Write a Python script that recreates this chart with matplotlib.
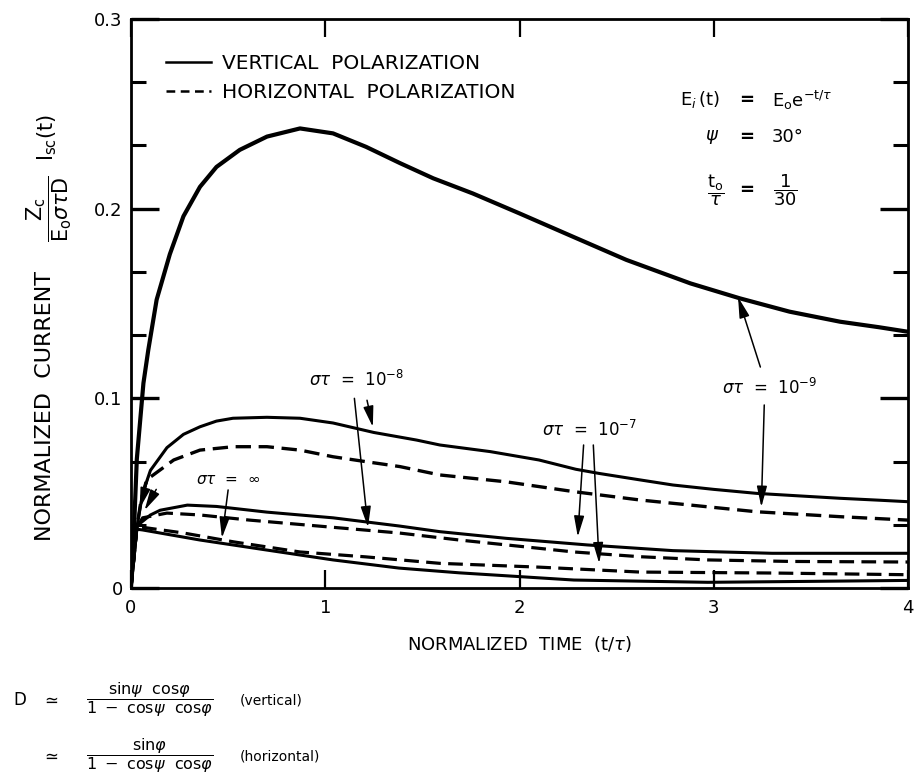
import numpy as np
import matplotlib.pyplot as plt
from matplotlib.lines import Line2D

plt.rcParams['font.family'] = ['DejaVu Sans']
plt.rcParams['mathtext.fontset'] = 'dejavusans'

# values (t/tau, normalized current)
# vertical polarization, sigma*tau = 1e-9
t_v9 = [0, 0.015, 0.03, 0.064, 0.089, 0.132, 0.2, 0.27, 0.355, 0.44, 0.56, 0.70, 0.87, 1.04, 1.21, 1.385,
        1.556, 1.76, 2.0, 2.28, 2.55, 2.88, 3.135, 3.39, 3.65, 3.85, 4.0]
i_v9 = [0, 0.03, 0.068, 0.108, 0.1255, 0.152, 0.176, 0.196, 0.2115, 0.222, 0.231, 0.238, 0.2423, 0.2397, 0.2326,
        0.224, 0.216, 0.208, 0.1975, 0.185, 0.173, 0.1606, 0.1527, 0.1457, 0.1404, 0.1375, 0.1351]

# vertical, peak ~0.09
t_v8 = [0, 0.03, 0.06, 0.1, 0.185, 0.27, 0.355, 0.44, 0.525, 0.7, 0.87, 1.04, 1.25, 1.47, 1.59, 1.85, 2.1,
        2.29, 2.41, 2.62, 2.79, 3.0, 3.22, 3.45, 3.65, 3.85, 4.0]
i_v8 = [0, 0.032, 0.05, 0.062, 0.074, 0.081, 0.085, 0.088, 0.0895, 0.090, 0.0895, 0.087, 0.082, 0.078, 0.0754,
        0.0719, 0.0675, 0.0626, 0.0604, 0.057, 0.0543, 0.052, 0.0499, 0.0485, 0.0473, 0.0463, 0.0455]

# horizontal, peak ~0.074
t_h9 = [0, 0.03, 0.05, 0.08, 0.22, 0.355, 0.527, 0.70, 0.87, 1.04, 1.21, 1.385, 1.59, 1.93, 2.28, 2.62,
        2.96, 3.22, 3.65, 4.0]
i_h9 = [0, 0.032, 0.045, 0.057, 0.0675, 0.0727, 0.0745, 0.0745, 0.0727, 0.0692, 0.0666, 0.064, 0.0596,
        0.056, 0.0508, 0.0464, 0.0429, 0.0402, 0.0376, 0.0358]

# vertical, peak ~0.043
t_v7 = [0, 0.03, 0.046, 0.1, 0.15, 0.29, 0.44, 0.7, 1.04, 1.38, 1.59, 1.93, 2.35, 2.79, 3.3, 3.6, 4.0]
i_v7 = [0, 0.032, 0.034, 0.0385, 0.041, 0.0437, 0.043, 0.040, 0.037, 0.0327, 0.0297, 0.0262, 0.0227,
        0.0197, 0.0183, 0.0183, 0.0183]

# horizontal, peak ~0.039
t_h8 = [0, 0.03, 0.06, 0.185, 0.355, 0.61, 1.04, 1.38, 1.69, 2.0, 2.28, 2.62, 2.97, 3.4, 4.0]
i_h8 = [0, 0.032, 0.037, 0.0395, 0.0385, 0.0358, 0.032, 0.029, 0.0253, 0.022, 0.019, 0.0165, 0.0148,
        0.014, 0.0137]

# horizontal, decaying
t_h7 = [0, 0.03, 0.06, 0.27, 0.53, 0.87, 1.21, 1.59, 2.1, 2.62, 3.3, 4.0]
i_h7 = [0, 0.032, 0.032, 0.029, 0.0243, 0.019, 0.0164, 0.013, 0.011, 0.0084, 0.0079, 0.007]

# vertical, sigma*tau = infinity
t_vinf = [0, 0.03, 0.06, 0.355, 0.7, 1.04, 1.38, 1.69, 2.28, 2.97, 3.5, 4.0]
i_vinf = [0, 0.031, 0.0306, 0.0253, 0.020, 0.0148, 0.0105, 0.008, 0.0042, 0.003, 0.0035, 0.004]

x_ticks = [0, 1, 2, 3, 4]
x_labels = ['0', '1', '2', '3', '4']
y_ticks = [0, 0.1, 0.2, 0.3]
y_labels = ['0', '0.1', '0.2', '0.3']

W, H = 914, 779
fig = plt.figure(figsize=(W / 100, H / 100), dpi=100)
ax = fig.add_axes([131 / W, 1 - 588 / H, 777 / W, 569 / H])

dash = (0, (4.6, 2.3))
ax.plot(t_v9, i_v9, color='black', lw=3.0, solid_capstyle='round')
ax.plot(t_v8, i_v8, color='black', lw=2.2)
ax.plot(t_h9, i_h9, color='black', lw=2.4, linestyle=dash)
ax.plot(t_v7, i_v7, color='black', lw=2.2)
ax.plot(t_h8, i_h8, color='black', lw=2.3, linestyle=dash)
ax.plot(t_h7, i_h7, color='black', lw=2.3, linestyle=dash)
ax.plot(t_vinf, i_vinf, color='black', lw=2.2)

ax.set_xlim(0, 4)
ax.set_ylim(0, 0.3)
ax.set_xticks(x_ticks)
ax.set_xticklabels(x_labels, fontsize=13)
ax.set_yticks(y_ticks)
ax.set_yticklabels(y_labels, fontsize=13)
ax.set_yticks(np.arange(0, 0.301, 1 / 30), minor=True)

ax.tick_params(axis='x', which='major', direction='in', top=True, bottom=True, length=13, width=1.6, pad=8)
ax.tick_params(axis='y', which='major', direction='in', left=True, right=True, length=20, width=2.4, pad=6)
ax.tick_params(axis='y', which='minor', direction='in', left=True, right=True, length=11, width=2.2)
for s in ax.spines.values():
    s.set_linewidth(2)

ax.set_xlabel(r'NORMALIZED  TIME  (t/$\tau$)', fontsize=13, labelpad=12)

# legend
handles = [Line2D([], [], color='black', lw=1.8),
           Line2D([], [], color='black', lw=1.8, linestyle=(0, (3.5, 2.2)))]
ax.legend(handles, ['VERTICAL  POLARIZATION', 'HORIZONTAL  POLARIZATION'], loc='upper left',
          bbox_to_anchor=(0.022, 0.97), frameon=False, fontsize=14.5, handlelength=2.2,
          handletextpad=0.55, labelspacing=0.5)

# curve labels with arrows
arw = dict(arrowstyle='-|>,head_length=0.9,head_width=0.22', color='black', lw=1.1,
           shrinkA=0, shrinkB=0, mutation_scale=14)


def arrow(tail, tip):
    ax.annotate('', xy=tip, xytext=tail, arrowprops=arw)


ax.text(1.163, 0.1096, r'$\sigma\tau$  =  10$^{-8}$', fontsize=12, ha='center', va='center')
arrow((1.15, 0.1), (1.22, 0.032))
arrow((1.215, 0.099), (1.245, 0.0849))

ax.text(2.363, 0.0833, r'$\sigma\tau$  =  10$^{-7}$', fontsize=12, ha='center', va='center')
arrow((2.33, 0.0754), (2.30, 0.027))
arrow((2.38, 0.0754), (2.41, 0.013))

ax.text(3.29, 0.1054, r'$\sigma\tau$  =  10$^{-9}$', fontsize=12, ha='center', va='center')
arrow((3.24, 0.1165), (3.125, 0.1534))
arrow((3.26, 0.0965), (3.245, 0.0427))

ax.text(0.5, 0.057, r'$\sigma\tau$  =  $\infty$', fontsize=11, ha='center', va='center')
arrow((0.5, 0.0517), (0.468, 0.0264))

# small arrows near the start
arrow((0.1, 0.062), (0.045, 0.042))
arrow((0.13, 0.052), (0.07, 0.041))


# parameters box
def ftxt(px, py, s, **kw):
    fig.text(px / W, 1 - py / H, s, **kw)


ftxt(720, 100, r'$\mathrm{E}_{i}\,\mathrm{(t)}$', fontsize=13, ha='right', va='center')
ftxt(747, 100, '=', fontsize=13, ha='center', va='center', fontweight='bold')
ftxt(772, 100, r'$\mathrm{E}_{\mathrm{o}}\mathrm{e}^{-\mathrm{t}/\tau}$', fontsize=13, ha='left', va='center')
ftxt(712, 137, r'$\psi$', fontsize=13, ha='center', va='center')
ftxt(747, 137, '=', fontsize=13, ha='center', va='center', fontweight='bold')
ftxt(772, 137, '30°', fontsize=13, ha='left', va='center')
ftxt(716, 190, r'$\dfrac{\mathrm{t}_{\mathrm{o}}}{\tau}$', fontsize=13, ha='center', va='center')
ftxt(747, 190, '=', fontsize=13, ha='center', va='center', fontweight='bold')
ftxt(785, 190, r'$\dfrac{1}{30}$', fontsize=13, ha='center', va='center')

# y label pieces
ftxt(45, 406, 'NORMALIZED  CURRENT', fontsize=16, rotation=90, ha='center', va='center')
ftxt(49, 209, r'$\dfrac{\mathrm{Z_c}}{\mathrm{E_o}\sigma\tau\mathrm{D}}$', fontsize=15, rotation=90,
     ha='center', va='center')
ftxt(47, 137, r'$\mathrm{I_{sc}(t)}$', fontsize=15, rotation=90, ha='center', va='center')

# D definitions under the chart
ftxt(20, 700, 'D', fontsize=12, ha='center', va='center')
ftxt(50, 700, r'$\simeq$', fontsize=12, ha='center', va='center')
ftxt(150, 700, r'$\dfrac{\mathrm{sin}\psi\ \ \mathrm{cos}\varphi}{1\ -\ \mathrm{cos}\psi\ \ \mathrm{cos}\varphi}$',
     fontsize=11.5, ha='center', va='center')
ftxt(240, 700, '(vertical)', fontsize=10, ha='left', va='center')
ftxt(50, 756, r'$\simeq$', fontsize=12, ha='center', va='center')
ftxt(150, 756, r'$\dfrac{\mathrm{sin}\varphi}{1\ -\ \mathrm{cos}\psi\ \ \mathrm{cos}\varphi}$',
     fontsize=11.5, ha='center', va='center')
ftxt(240, 756, '(horizontal)', fontsize=10, ha='left', va='center')

fig.savefig('out.png', dpi=100)
